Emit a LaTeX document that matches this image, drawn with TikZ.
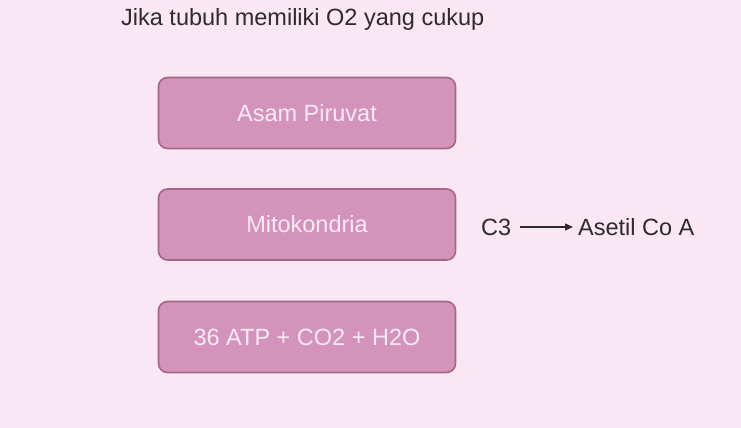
\documentclass[tikz,border=0pt]{standalone}
\usepackage{fontspec}
\setmainfont{Liberation Sans}
\usetikzlibrary{arrows.meta}
\definecolor{bgpink}{HTML}{F9E7F3}
\definecolor{boxfill}{HTML}{D393BA}
\definecolor{boxline}{HTML}{A56787}
\definecolor{boxtext}{HTML}{F9EAF3}
\definecolor{darktext}{HTML}{2E2A2E}
\tikzset{
  pinkbox/.style={draw=boxline, line width=1.6pt, fill=boxfill, rounded corners=9pt,
    minimum width=297pt, minimum height=71pt, inner sep=0pt,
    text=boxtext, font=\fontsize{23.5}{27}\selectfont},
  plaintext/.style={text=darktext, font=\fontsize{23.5}{27}\selectfont, inner sep=0pt},
  arr/.style={-{Triangle[length=8pt,width=7pt]}, line width=1.3pt, draw=darktext}
}
\begin{document}
\begin{tikzpicture}[x=1pt,y=-1pt]
\fill[bgpink] (0,0) rectangle (741,428);
\useasboundingbox (0,0) rectangle (741,428);
\node[plaintext, anchor=west] (title) at (121,19) {Jika tubuh memiliki O2 yang cukup};
\node[pinkbox] (b1) at (307,113) {Asam Piruvat};
\node[pinkbox] (b2) at (307,224.5) {Mitokondria};
\node[pinkbox] (b3) at (307,337) {36 ATP + CO2 + H2O};
\node[plaintext, anchor=west] (c3) at (481,227) {C3};
\node[plaintext, anchor=west] (ac) at (578,227) {Asetil Co A};
\coordinate (s) at ([xshift=9pt]c3.east);
\coordinate (e) at ([xshift=-5pt]ac.west);
\draw[arr] (s) -- (s -| e);
\end{tikzpicture}
\end{document}
